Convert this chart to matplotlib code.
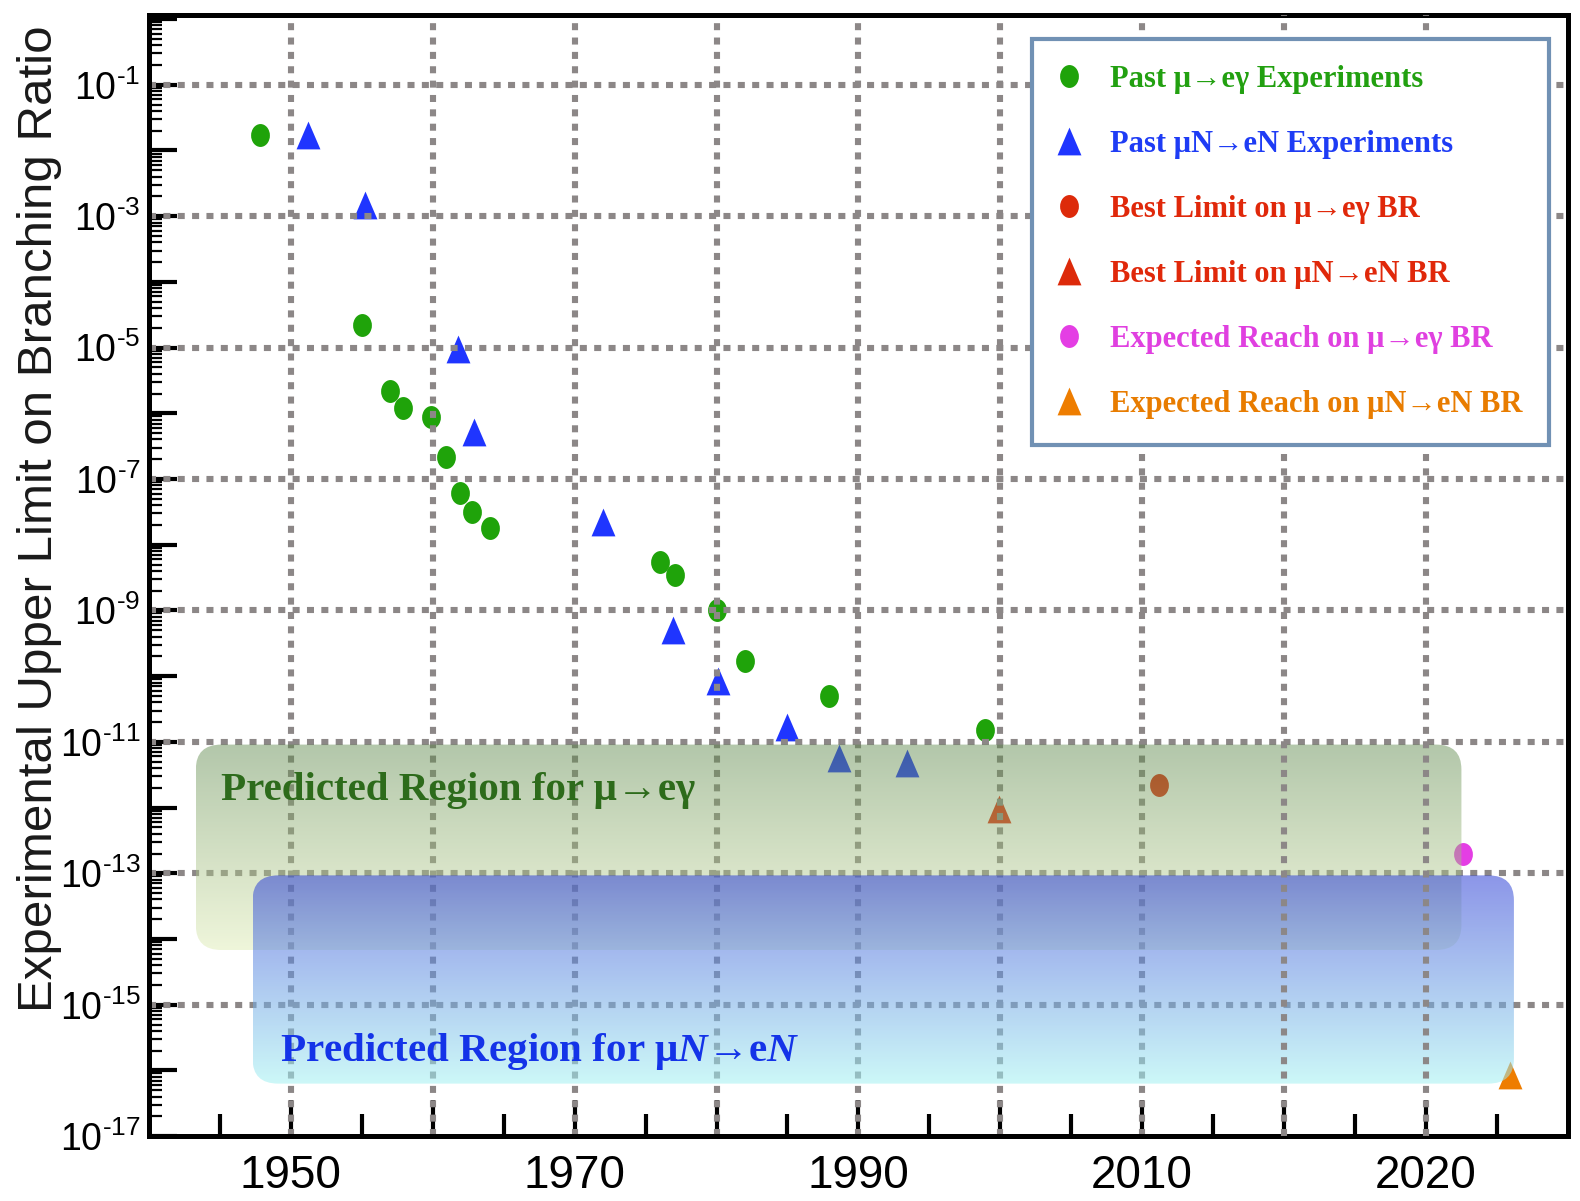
import matplotlib
matplotlib.use('Agg')
import matplotlib.pyplot as plt
import numpy as np
from matplotlib import font_manager
from matplotlib.path import Path
from matplotlib.transforms import Affine2D
from matplotlib.patches import FancyBboxPatch
from matplotlib.font_manager import FontProperties
from matplotlib.ticker import FixedLocator, FixedFormatter, LogLocator, NullFormatter

# past mu -> e gamma searches
meg_years = [1947.8, 1955.0, 1957.0, 1957.9, 1959.9, 1960.9, 1961.9, 1962.8, 1964.0,
             1976.0, 1977.1, 1980.0, 1982.0, 1987.9, 1998.9]
meg_br = [1.7e-2, 2.2e-5, 2.2e-6, 1.2e-6, 8.9e-7, 2.2e-7, 6.2e-8, 3.1e-8, 1.8e-8,
          5.4e-9, 3.5e-9, 1.0e-9, 1.7e-10, 5.0e-11, 1.5e-11]

# past mu N -> e N searches
conv_years = [1951.2, 1955.2, 1961.8, 1962.9, 1972.0, 1976.9, 1980.1, 1985.0, 1988.6, 1993.4]
conv_br = [1.7e-2, 1.5e-3, 9.5e-6, 5.2e-7, 2.2e-8, 5.1e-10, 8.3e-11, 1.7e-11, 5.6e-12, 4.7e-12]

# best limits and expected reach
best_meg_year, best_meg_br = [2011.2], [2.2e-12]
best_conv_year, best_conv_br = [1999.9], [9.5e-13]
reach_meg_year, reach_meg_br = [2032.6], [2.0e-13]
reach_conv_year, reach_conv_br = [2035.9], [8.5e-17]

# predicted regions (years, BR range)
band_years = [(1943.3, 2032.5), (1947.3, 2036.2)]
band_br = [(6.8e-15, 9.1e-12), (6.3e-17, 9.3e-14)]
band_labels = ['Predicted Region for \u03bc\u2192e\u03b3',
               'Predicted Region for \u03bc$\\mathit{N}$\u2192e$\\mathit{N}$']

legend_labels = ['Past \u03bc\u2192e\u03b3 Experiments',
                 'Past \u03bcN\u2192eN Experiments',
                 'Best Limit on \u03bc\u2192e\u03b3 BR',
                 'Best Limit on \u03bcN\u2192eN BR',
                 'Expected Reach on \u03bc\u2192e\u03b3 BR',
                 'Expected Reach on \u03bcN\u2192eN BR']

year_ticks = [1950, 1960, 1970, 1980, 1990, 2000, 2010, 2020, 2030]
year_labels = ['1950', '', '1970', '', '1990', '', '2010', '', '2020']
br_exponents = list(range(-17, 1))
grid_br = [1e-1, 1e-3, 1e-5, 1e-7, 1e-9, 1e-11, 1e-13, 1e-15]

green = '#1fa30a'
blue = '#1f35ff'
red = '#dd2a0a'
magenta = '#e43ee4'
orange = '#ee7d00'
text_colors = ['#22a010', '#1e3cf5', '#e0280a', '#e0280a', '#e040e0', '#e87c00']

names = {f.name for f in font_manager.fontManager.ttflist}
narrow = 'Liberation Sans Narrow' in names
sans = 'Liberation Sans Narrow' if narrow else 'Liberation Sans'
k = 1.17 if narrow else 1.0
serif = ['Liberation Serif', 'DejaVu Serif']

plt.rcParams['mathtext.default'] = 'regular'
plt.rcParams['mathtext.fontset'] = 'custom'
plt.rcParams['mathtext.rm'] = sans
plt.rcParams['mathtext.it'] = 'Liberation Serif:italic:bold'

oval = Path.unit_circle().transformed(Affine2D().scale(0.82, 1.0))
tri = Path([(0, 1), (-0.86, -1), (0.86, -1), (0, 1)], closed=True)

fig = plt.figure(figsize=(15.8, 12.01), dpi=100)
ax = fig.add_axes([0.0943, 0.054, 0.898, 0.9334])
ax.set_yscale('log')
ax.set_xlim(1940, 2040)
ax.set_ylim(1e-17, 10 ** 0.06)

kw = dict(linestyle='none', markeredgewidth=0, zorder=2)
h1, = ax.plot(meg_years, meg_br, marker=oval, markersize=16.5, color=green, **kw)
h2, = ax.plot(conv_years, conv_br, marker=tri, markersize=20, color=blue, **kw)
h3, = ax.plot(best_meg_year, best_meg_br, marker=oval, markersize=16.5, color=red, **kw)
h4, = ax.plot(best_conv_year, best_conv_br, marker=tri, markersize=20, color=red, **kw)
h5, = ax.plot(reach_meg_year, reach_meg_br, marker=oval, markersize=16.5, color=magenta, **kw)
h6, = ax.plot(reach_conv_year, reach_conv_br, marker=tri, markersize=20, color=orange, **kw)

# dotted grid, drawn over the points
gkw = dict(color='#8c8787', linewidth=4.4, linestyle=(0, (1.15, 1.2)), dash_capstyle='butt')
for yr in year_ticks:
    ax.axvline(yr, zorder=3.5 if yr >= 2020 else 2.5, **gkw)
for br in grid_br:
    ax.axhline(br, zorder=2.5, **gkw)

# shaded predicted regions with vertical gradients
scaled = ax.transLimits + ax.transAxes
band_colors = [((0.36, 0.53, 0.29, 0.47), (0.86, 0.92, 0.68, 0.45)),
               ((0.18, 0.25, 0.84, 0.55), (0.64, 0.95, 0.95, 0.55))]
ramp = np.linspace(0, 1, 256)[:, None, None]
for i, ((x0, x1), (b0, b1), (c_top, c_bot)) in enumerate(zip(band_years, band_br, band_colors)):
    y0, y1 = np.log10(b0), np.log10(b1)
    box = FancyBboxPatch((x0, y0), x1 - x0, y1 - y0,
                         boxstyle='round,pad=0,rounding_size=1.8', mutation_aspect=0.21,
                         transform=scaled, facecolor='none', edgecolor='none')
    rgba = (1 - ramp) * np.array(c_bot) + ramp * np.array(c_top)
    im = ax.imshow(rgba, extent=(x0, x1, y0, y1), origin='lower', aspect='auto',
                   transform=scaled, interpolation='bilinear', zorder=3 + 0.1 * i)
    im.set_clip_path(box)

band_font = FontProperties(family=serif, weight='bold', size=29.5)
ax.text(1945.1, 10 ** -11.88, band_labels[0], color='#2d6b1b', fontproperties=band_font, zorder=4)
ax.text(1949.2, 10 ** -15.85, band_labels[1], color='#1433e8', fontproperties=band_font, zorder=4)

# axes styling
for sp in ax.spines.values():
    sp.set_linewidth(3.6)
ax.xaxis.set_major_locator(FixedLocator(year_ticks))
ax.xaxis.set_major_formatter(FixedFormatter(year_labels))
ax.xaxis.set_minor_locator(FixedLocator([y + 5 for y in [1940] + year_ticks[:-1]] + [2035]))
ax.yaxis.set_major_locator(FixedLocator([10.0 ** e for e in br_exponents]))
ax.yaxis.set_major_formatter(FixedFormatter(
    ['10$^{\\text{-}%d}$' % -e if e % 2 else '' for e in br_exponents]))
ax.yaxis.set_minor_locator(LogLocator(base=10, subs=np.arange(2, 10), numticks=100))
ax.yaxis.set_minor_formatter(NullFormatter())
ax.tick_params(axis='x', which='major', direction='in', length=26, width=3, pad=13,
               labelsize=33 * k, labelfontfamily=sans, top=False)
ax.tick_params(axis='x', which='minor', direction='in', length=16, width=3, top=False)
ax.tick_params(axis='y', which='major', direction='in', length=20, width=3, pad=6,
               labelsize=27 * k, labelfontfamily=sans, right=False)
ax.tick_params(axis='y', which='minor', direction='in', length=9.5, width=1.6, right=False)

fig.text(0.025, 0.568, 'Experimental Upper Limit on Branching Ratio', rotation=90,
         ha='center', va='center', fontsize=35.5, family='Liberation Sans', color='#1a1a1a')

leg = ax.legend([h1, h2, h3, h4, h5, h6], legend_labels, loc='upper right',
                bbox_to_anchor=(0.9865, 0.979), borderaxespad=0, numpoints=1,
                prop=FontProperties(family=serif, weight='bold', size=22),
                fancybox=False, framealpha=1, edgecolor='#7191b4',
                borderpad=0.85, labelspacing=1.18, handlelength=0.75, handletextpad=0.96)
leg.get_frame().set_linewidth(3)
leg.set_zorder(6)
for t, c in zip(leg.get_texts(), text_colors):
    t.set_color(c)

fig.savefig('out.png', dpi=100)
